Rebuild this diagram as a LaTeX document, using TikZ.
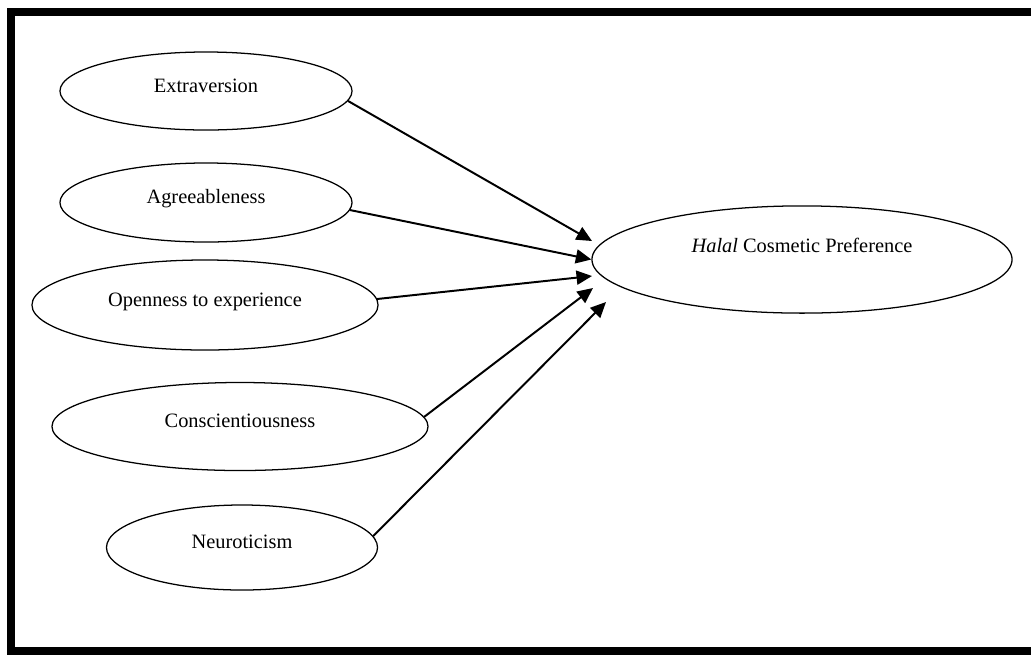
\documentclass[tikz,border=0pt]{standalone}
\usepackage{fontspec}
\setmainfont{Liberation Serif}
\usetikzlibrary{arrows.meta,shapes.geometric}

\tikzset{
  factor/.style={draw, ellipse, line width=0.9pt, inner sep=0pt,
    font=\fontsize{14.5}{17}\selectfont, text height=10pt, text depth=8pt},
  link/.style={-{Triangle[length=11pt,width=10pt]}, line width=1.4pt}
}

\begin{document}
\begin{tikzpicture}[x=0.025cm,y=-0.025cm]
\clip (0,0) rectangle (1031,654);
% frame
\draw[line width=5.7pt] (11,12) rectangle (1045,651);

% personality traits
\node[factor, minimum width=7.3cm, minimum height=1.95cm] (extra) at (206,91) {Extraversion};
\node[factor, minimum width=7.3cm, minimum height=1.975cm] (agree) at (206,202.5) {Agreeableness};
\node[factor, minimum width=8.65cm, minimum height=2.25cm] (open) at (205,305) {Openness to experience};
\node[factor, minimum width=9.4cm, minimum height=2.2cm] (consc) at (240,426.5) {Conscientiousness};
\node[factor, minimum width=6.775cm, minimum height=2.125cm] (neuro) at (242,547.5) {Neuroticism};

% outcome
\node[factor, minimum width=10.5cm, minimum height=2.68cm, text depth=20pt] (halal) at (802,259.5) {\textit{Halal} Cosmetic Preference};

\coordinate (t1) at (592,241);
\coordinate (t3) at (592,276);
\coordinate (t4) at (593,288);
\coordinate (t5) at (606,302);

\draw[link] (extra.-4) -- (t1);
\draw[link] (agree.-3) -- (halal.west);
\draw[link] (open.2) -- (t3);
\draw[link] (consc.3) -- (t4);
\draw[link] (neuro.5) -- (t5);
\end{tikzpicture}
\end{document}
